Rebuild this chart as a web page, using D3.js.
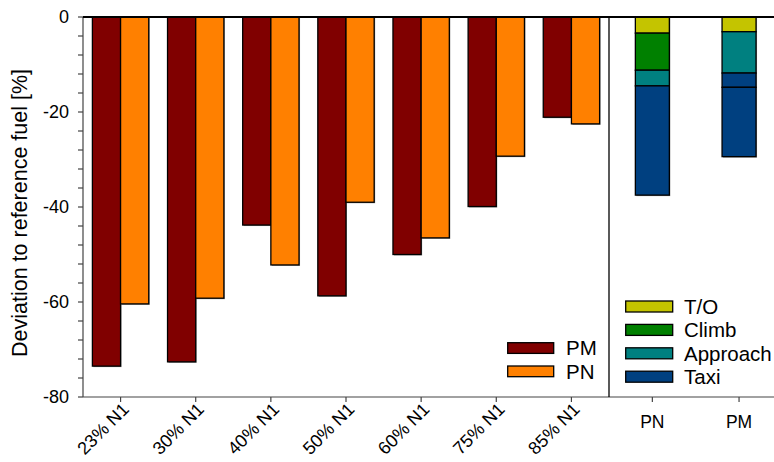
<!DOCTYPE html>
<html><head><meta charset="utf-8">
<script src="https://cdn.jsdelivr.net/npm/d3@7"></script>
<style>body{margin:0;background:#fff}svg{display:block;font-family:"Liberation Sans",Arial,sans-serif}</style>
</head><body><svg id="c" width="774" height="462"></svg>
<script>
const categories = ["23% N1","30% N1","40% N1","50% N1","60% N1","75% N1","85% N1"];
const pmValues = [-73.5,-72.6,-43.8,-58.7,-50.0,-39.9,-21.1];
const pnValues = [-60.4,-59.2,-52.2,-39.0,-46.5,-29.3,-22.5];
const seriesNames = ["PM","PN"];
const stackCats = ["PN","PM"];
const phases = ["T/O","Climb","Approach","Taxi"];
const pnSegments = [["T/O",-3.4],["Climb",-7.8],["Approach",-3.3],["Taxi",-23.0]];
const pmSegments = [["T/O",-3.1],["Approach",-8.7],["Taxi",-3.0],["Taxi",-14.6]];
const yTicks = [0,-20,-40,-60,-80];

const seriesColor = {PM:"#800000", PN:"#ff8000"};
const phaseColor = {"T/O":"#c4c400","Climb":"#008000","Approach":"#008080","Taxi":"#004080"};

const svg = d3.select("#c");
const y = d3.scaleLinear().domain([-80,0]).range([397,17]);
const x0 = d3.scaleBand().domain(categories).range([83,609]).paddingInner(0.25).paddingOuter(0.125);
const x1 = d3.scaleBand().domain(seriesNames).range([0,x0.bandwidth()]);
const xr = d3.scaleBand().domain(stackCats).range([609,782.4]).paddingInner(0.608).paddingOuter(0.304);

// grouped bars
const groups = svg.append("g").selectAll("g").data(categories).join("g")
  .attr("transform", d => `translate(${x0(d)},0)`);
groups.each(function(c,i){
  const g = d3.select(this);
  const vals = [{s:"PM",v:pmValues[i]},{s:"PN",v:pnValues[i]}];
  g.selectAll("rect.sh").data(vals).join("rect").attr("class","sh")
    .attr("x", d=>x1(d.s)+1).attr("y", d=>y(0)+1).attr("width", x1.bandwidth())
    .attr("height", d=>y(d.v)-y(0)).attr("fill","#999");
  g.selectAll("rect.b").data(vals).join("rect").attr("class","b")
    .attr("x", d=>x1(d.s)).attr("y", y(0)).attr("width", x1.bandwidth())
    .attr("height", d=>y(d.v)-y(0)).attr("fill", d=>seriesColor[d.s])
    .attr("stroke","#000").attr("stroke-width",1.3);
});

// stacked bars
function drawStack(cat, segs){
  let acc = 0;
  const data = segs.map(([p,v]) => { const d={p, y0:acc, y1:acc+v}; acc+=v; return d; });
  const g = svg.append("g");
  g.append("rect").attr("x", xr(cat)+1).attr("y", y(0)+1).attr("width", xr.bandwidth())
    .attr("height", y(acc)-y(0)).attr("fill","#999");
  g.selectAll("rect.s").data(data).join("rect").attr("class","s")
    .attr("x", xr(cat)).attr("y", d=>y(d.y0)).attr("width", xr.bandwidth())
    .attr("height", d=>y(d.y1)-y(d.y0)).attr("fill", d=>phaseColor[d.p])
    .attr("stroke","#000").attr("stroke-width",1.3);
}
drawStack("PN", pnSegments);
drawStack("PM", pmSegments);

// y axis
const minor = d3.range(0,-81,-4);
const ya = svg.append("g");
ya.append("line").attr("x1",83).attr("x2",83).attr("y1",17).attr("y2",397).attr("stroke","#444").attr("stroke-width",1.2);
ya.selectAll("line.t").data(minor).join("line").attr("class","t")
  .attr("x1",78).attr("x2",83).attr("y1",d=>y(d)).attr("y2",d=>y(d)).attr("stroke","#444").attr("stroke-width",1.2);
ya.selectAll("text").data(yTicks).join("text")
  .attr("x",69).attr("y",d=>y(d)).attr("dy","0.36em").attr("text-anchor","end")
  .attr("font-size",18).attr("fill","#000").text(d=>d);

// bottom axis
svg.append("line").attr("x1",83).attr("x2",774).attr("y1",397).attr("y2",397).attr("stroke","#444").attr("stroke-width",1.2);
svg.selectAll("line.xt").data(categories).join("line").attr("class","xt")
  .attr("x1",d=>x0(d)+x0.bandwidth()/2).attr("x2",d=>x0(d)+x0.bandwidth()/2)
  .attr("y1",397).attr("y2",402).attr("stroke","#444").attr("stroke-width",1.2);
svg.selectAll("line.xr").data(stackCats).join("line").attr("class","xr")
  .attr("x1",d=>xr(d)+xr.bandwidth()/2).attr("x2",d=>xr(d)+xr.bandwidth()/2)
  .attr("y1",397).attr("y2",402).attr("stroke","#444").attr("stroke-width",1.2);
svg.selectAll("text.xl").data(categories).join("text").attr("class","xl")
  .attr("transform", d=>`translate(${x0(d)+x0.bandwidth()/2+5},${406}) rotate(-45)`)
  .attr("text-anchor","end").attr("dy","0.35em").attr("font-size",18).text(d=>d);
svg.selectAll("text.xrl").data(stackCats).join("text").attr("class","xrl")
  .attr("x", d=>xr(d)+xr.bandwidth()/2).attr("y",428).attr("text-anchor","middle")
  .attr("font-size",17.5).text(d=>d);

// top line and divider
svg.append("line").attr("x1",83).attr("x2",774).attr("y1",17).attr("y2",17).attr("stroke","#000").attr("stroke-width",2);
svg.append("line").attr("x1",609).attr("x2",609).attr("y1",17).attr("y2",397).attr("stroke","#000").attr("stroke-width",1.3);

// y title
svg.append("text").attr("transform","translate(27,213) rotate(-90)").attr("text-anchor","middle")
  .attr("font-size",21.5).text("Deviation to reference fuel [%]");

// legend left
const lg = svg.append("g");
seriesNames.forEach((s,i)=>{
  const yy = 342.7 + i*23.3;
  lg.append("rect").attr("x",507.7).attr("y",yy).attr("width",46).attr("height",10.7)
    .attr("fill",seriesColor[s]).attr("stroke","#000").attr("stroke-width",1.3);
  lg.append("text").attr("x",566).attr("y",yy+12.5).attr("font-size",20.5).text(s);
});
// legend right
phases.forEach((p,i)=>{
  const yy = 301 + i*23.4;
  lg.append("rect").attr("x",625.7).attr("y",yy).attr("width",47).attr("height",11)
    .attr("fill",phaseColor[p]).attr("stroke","#000").attr("stroke-width",1.3);
  lg.append("text").attr("x",684).attr("y",yy+13).attr("font-size",20.5).text(p);
});
</script></body></html>
